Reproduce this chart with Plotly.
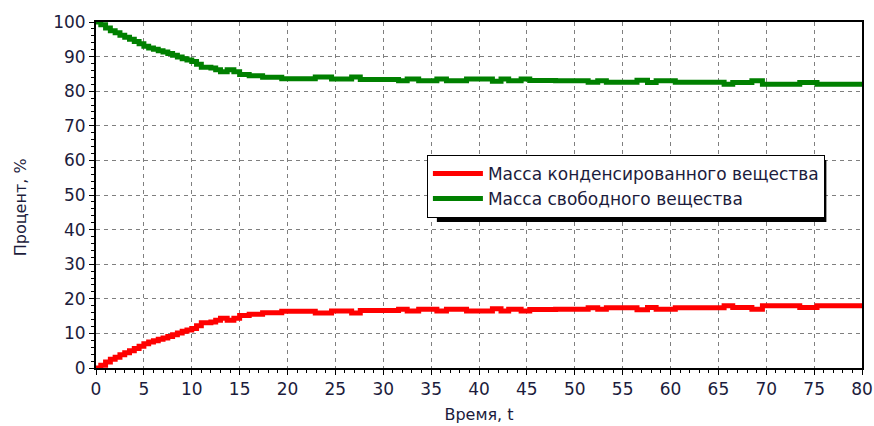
import plotly.graph_objects as go

# time points (step changes) and values
time_t = [0, 0.5, 1, 1.5, 2, 2.5, 3, 3.5, 4, 4.5, 5, 5.5, 6, 6.5, 7, 7.5, 8, 8.5,
          9, 9.5, 10, 10.5, 11, 12, 12.5, 13, 13.7, 14.4, 15, 16, 17.4, 19.4,
          22.9, 24.6, 26.7, 27.6, 31.6, 32.5, 33.7, 35.6, 36.6, 38.7, 41.4,
          42.3, 43.1, 44.4, 45.3, 48, 51.4, 52.4, 53.3, 56.5, 57.6, 58.5, 60.5,
          65.6, 66.5, 68.5, 69.6, 73.5, 75.3, 80]

condensed = [0.0, 0.8, 1.7, 2.5, 3.1, 3.8, 4.4, 5.0, 5.6, 6.3, 7.0, 7.5, 7.9, 8.3,
             8.7, 9.1, 9.6, 10.1, 10.6, 11.0, 11.4, 12.2, 13.1, 13.3, 13.8, 14.4,
             13.8, 14.4, 15.2, 15.5, 16.0, 16.4, 15.9, 16.5, 15.9, 16.6, 17.0,
             16.5, 17.0, 16.5, 17.0, 16.5, 17.1, 16.5, 17.0, 16.5, 16.9, 17.0,
             17.4, 17.0, 17.4, 16.8, 17.5, 17.0, 17.4, 18.0, 17.5, 17.0, 18.0,
             17.5, 18.0, 18.0]

free = [100.0, 99.2, 98.3, 97.5, 96.9, 96.2, 95.6, 95.0, 94.4, 93.7, 93.0, 92.5,
        92.1, 91.7, 91.3, 90.9, 90.4, 89.9, 89.4, 89.0, 88.6, 87.8, 86.9, 86.7,
        86.2, 85.6, 86.2, 85.6, 84.8, 84.5, 84.0, 83.6, 84.1, 83.5, 84.1, 83.4,
        83.0, 83.5, 83.0, 83.5, 83.0, 83.5, 82.9, 83.5, 83.0, 83.5, 83.1, 83.0,
        82.6, 83.0, 82.6, 83.2, 82.5, 83.0, 82.6, 82.0, 82.5, 83.0, 82.0, 82.5,
        82.0, 82.0]

x_ticks = list(range(0, 81, 5))
y_ticks = list(range(0, 101, 10))

name_condensed = "Масса конденсированного вещества"
name_free = "Масса свободного вещества"
x_title = "Время, t"
y_title = "Процент, %"

FONT = "DejaVu Sans"
TXT = "#1c1c3c"

fig = go.Figure()
fig.add_trace(go.Scatter(x=time_t, y=condensed, mode="lines", name=name_condensed,
                         line=dict(color="#ff0000", width=5, shape="hv")))
fig.add_trace(go.Scatter(x=time_t, y=free, mode="lines", name=name_free,
                         line=dict(color="#008000", width=5, shape="hv")))

axis_common = dict(
    showline=True, linecolor="black", linewidth=2, mirror=True,
    showgrid=True, gridcolor="#7f7f7f", gridwidth=1, griddash="4px,4px",
    zeroline=False, ticks="outside", ticklen=5, tickcolor="black", tickwidth=1,
    tickfont=dict(family=FONT, size=17, color=TXT), automargin=False,
)

fig.update_xaxes(range=[0, 80], tickvals=x_ticks, ticktext=[str(v) for v in x_ticks],
                 minor=dict(dtick=1, ticks="outside", ticklen=3, tickcolor="black", showgrid=False),
                 title=dict(text=x_title, font=dict(family=FONT, size=16, color=TXT), standoff=10),
                 **axis_common)
fig.update_yaxes(range=[0, 100], tickvals=y_ticks, ticktext=[str(v) for v in y_ticks],
                 minor=dict(dtick=2, ticks="outside", ticklen=3, tickcolor="black", showgrid=False),
                 **axis_common)

fig.add_annotation(text=y_title, xref="paper", yref="paper", x=-0.099, y=0.465,
                   textangle=-90, showarrow=False, xanchor="center", yanchor="middle",
                   font=dict(family=FONT, size=16, color=TXT))

# legend drop shadow (offset ~5px right/down of the legend box)
fig.add_shape(type="rect", xref="paper", yref="paper",
              x0=0.445, x1=0.9535, y0=0.4217, y1=0.601,
              fillcolor="black", line=dict(width=0), layer="above")

fig.update_layout(
    width=874, height=426,
    margin=dict(l=96, r=12, t=22, b=58),
    paper_bgcolor="white", plot_bgcolor="white",
    showlegend=True,
    legend=dict(x=0.432, y=0.616, xanchor="left", yanchor="top",
                bgcolor="white", bordercolor="black", borderwidth=1,
                font=dict(family=FONT, size=17, color=TXT),
                itemwidth=50, tracegroupgap=0),
)

fig.write_html("out.html")
